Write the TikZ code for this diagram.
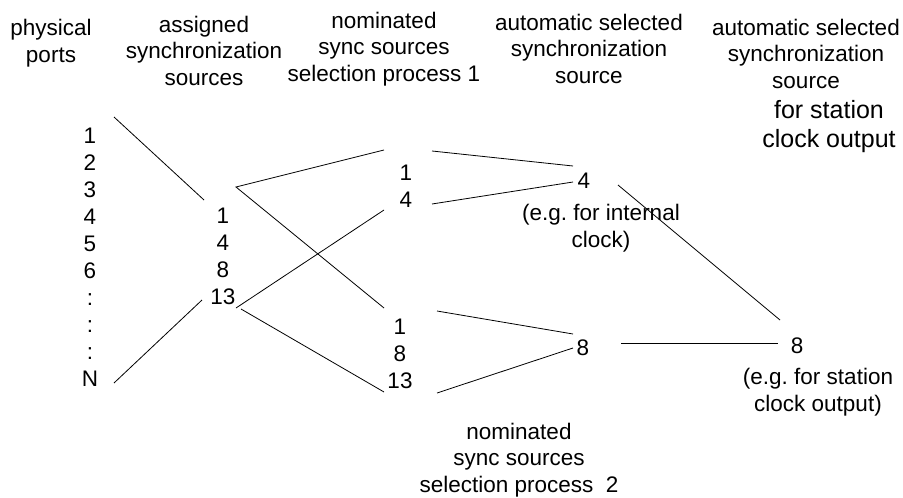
\documentclass[tikz,border=0pt]{standalone}
\usepackage{fontspec}
\setmainfont{Liberation Sans}
\frenchspacing
\begin{document}
\begin{tikzpicture}[x=1pt,y=-1pt,
  txt/.style={inner sep=0pt,anchor=base,align=center,font=\fontsize{22.5}{26.5}\selectfont},
  num/.style={inner sep=0pt,anchor=base,align=center,font=\fontsize{22.5}{27}\selectfont},
  big/.style={inner sep=0pt,anchor=base,align=center,font=\fontsize{25}{29}\selectfont},
  wire/.style={line width=0.8pt}]
\useasboundingbox (0,0) rectangle (903,498);
% headers (anchor = baseline of last line)
\node[txt] (hports) at (51,62) {physical\\ports};
\node[txt] (hassigned) at (204,85) {assigned\\synchronization\\sources};
\node[txt] (hnom1) at (384,81) {nominated\\sync sources\\selection process 1};
\node[txt] (hauto) at (589,83) {automatic selected\\synchronization\\source};
\node[txt] (hstat) at (806,88) {automatic selected\\synchronization\\source};
\node[big] (hstat2) at (829,147) {for station\\clock output};
% columns
\node[num] (ports) at (90,386) {1\\2\\3\\4\\5\\6\\:\\:\\:\\N};
\node[num] (assigned) at (223,304) {1\\4\\8\\13};
\node[num] (nomA) at (406,207) {1\\4};
\node[num] (nomB) at (400,388) {1\\8\\13};
\node[num] (selA) at (584,188) {4};
\node[txt] (selAnote) at (601,247) {(e.g. for internal\\clock)};
\node[num] (selB) at (583,355) {8};
\node[num] (stat) at (797,353) {8};
\node[txt] (statnote) at (818,411) {(e.g. for station\\clock output)};
\node[txt] (hnom2) at (519,492) {nominated\\sync sources\\selection process\ \ 2};
% connector end points
\coordinate (a1) at (114,117); \coordinate (a2) at (204,200);
\coordinate (v1) at (236,187);
\coordinate (b2) at (384,150); \coordinate (c2) at (384,308);
\coordinate (d1) at (236,308); \coordinate (d2) at (384,210);
\coordinate (e1) at (241,309); \coordinate (e2) at (384,392);
\coordinate (f1) at (114,383); \coordinate (f2) at (202,300);
\coordinate (g1) at (432,151); \coordinate (g2) at (573,166);
\coordinate (h1) at (432,204); \coordinate (h2) at (573,182);
\coordinate (i1) at (437,311); \coordinate (i2) at (573,334);
\coordinate (j1) at (437,393); \coordinate (j2) at (573,348);
\coordinate (k1) at (618,185); \coordinate (k2) at (780,320);
\coordinate (l1) at (621,343); \coordinate (l2) at (778,343);
\draw[wire] (a1) -- (a2);
\draw[wire] (b2) -- (v1) -- (c2);
\draw[wire] (d1) -- (d2);
\draw[wire] (e1) -- (e2);
\draw[wire] (f1) -- (f2);
\draw[wire] (g1) -- (g2);
\draw[wire] (h1) -- (h2);
\draw[wire] (i1) -- (i2);
\draw[wire] (j1) -- (j2);
\draw[wire] (k1) -- (k2);
\draw[wire] (l1) -- (l2);
\end{tikzpicture}
\end{document}
